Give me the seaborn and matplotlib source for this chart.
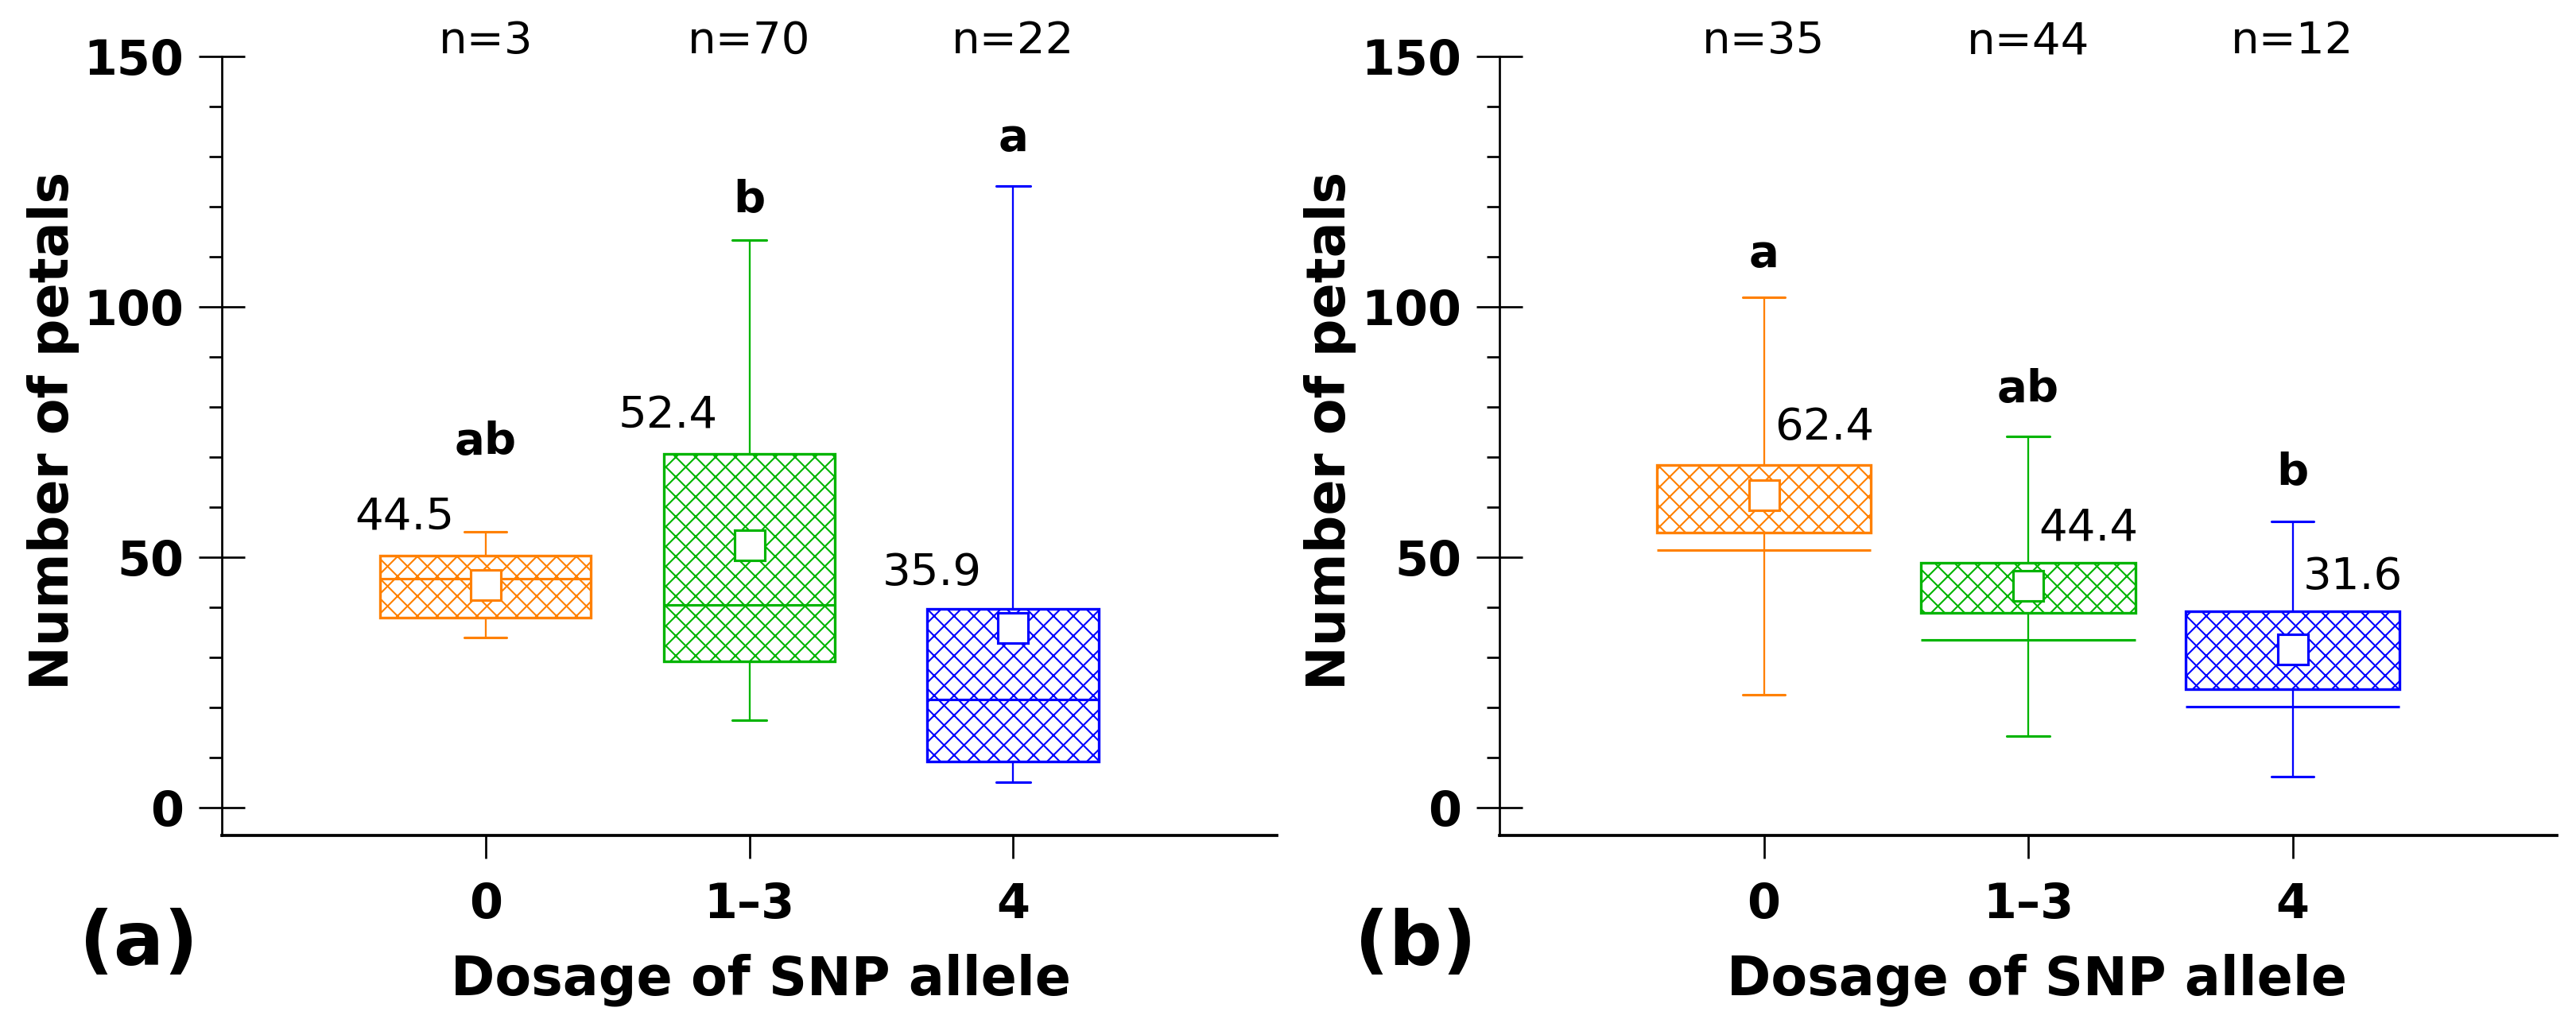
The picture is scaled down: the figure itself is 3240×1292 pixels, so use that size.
import numpy as np
import pandas as pd
import matplotlib
matplotlib.use("Agg")
import matplotlib.pyplot as plt
import seaborn as sns
from matplotlib.ticker import MultipleLocator

# ---------------- data ----------------
categories = ["0", "1\u20133", "4"]

a_n = [3, 70, 22]
a_mean = [44.5, 52.4, 35.9]
a_min = [34.0, 17.5, 5.1]
a_q1 = [38.0, 29.3, 9.2]
a_median = [45.8, 40.5, 21.7]
a_q3 = [50.4, 70.6, 39.7]
a_max = [55.2, 113.3, 124.2]
a_letters = ["ab", "b", "a"]

b_n = [35, 44, 12]
b_mean = [62.4, 44.4, 31.6]
b_min = [22.6, 14.4, 6.3]
b_q1 = [55.0, 38.9, 23.7]
b_median = [51.5, 33.5, 20.2]
b_q3 = [68.5, 49.0, 39.3]
b_max = [102.0, 74.1, 57.2]
b_letters = ["a", "ab", "b"]

# ---------------- style / layout ----------------
colors = ["#FF8000", "#00B400", "#0000FF"]
W, H, DPI = 3240, 1292, 150

sns.set_theme(style="ticks")
plt.rcParams["font.family"] = ["DejaVu Sans"]
plt.rcParams["hatch.linewidth"] = 1.0
plt.rcParams["axes.edgecolor"] = "black"
plt.rcParams["xtick.color"] = "black"
plt.rcParams["ytick.color"] = "black"
plt.rcParams["text.color"] = "black"
plt.rcParams["axes.labelcolor"] = "black"

fig = plt.figure(figsize=(W / DPI, H / DPI), dpi=DPI)
ax_a = fig.add_axes([279 / W, 0.1865, 1327 / W, 0.7585])
ax_b = fig.add_axes([1886 / W, 0.1865, 1330 / W, 0.7585])

panels = [
    dict(ax=ax_a, n=a_n, mean=a_mean, lo=a_min, q1=a_q1, med=a_median, q3=a_q3,
         hi=a_max, letters=a_letters, widths=[0.80, 0.65, 0.65], med_inside=True,
         letter_y=[73, 121.4, 133.6], mean_lab_y=[58.0, 78.2, 46.8],
         mean_lab_dx=-0.12, mean_lab_ha="right", tag="(a)", tag_x=174,
         xlab_x=0.511),
    dict(ax=ax_b, n=b_n, mean=b_mean, lo=b_min, q1=b_q1, med=b_median, q3=b_q3,
         hi=b_max, letters=b_letters, widths=[0.81, 0.81, 0.81], med_inside=False,
         letter_y=[110.5, 83.5, 67.0], mean_lab_y=[75.9, 55.9, 46.0],
         mean_lab_dx=0.04, mean_lab_ha="left", tag="(b)", tag_x=1780,
         xlab_x=0.508),
]

for p in panels:
    ax = p["ax"]
    xs = np.arange(len(categories))
    for i, cat in enumerate(categories):
        mid = p["med"][i] if p["med_inside"] else p["q1"][i]
        vals = [p["lo"][i], p["q1"][i], mid, p["q3"][i], p["hi"][i]]
        df = pd.DataFrame({"dose": [cat] * len(vals), "petals": vals})
        w = p["widths"][i]
        sns.boxplot(
            data=df, x="dose", y="petals", order=categories, ax=ax,
            whis=np.inf, width=w, color="white", linecolor=colors[i],
            linewidth=1.5, fliersize=0, capwidths=0.2 * w,
            boxprops=dict(hatch="xx", edgecolor=colors[i], facecolor="white",
                          linewidth=1.6),
            whiskerprops=dict(linewidth=1.1),
            capprops=dict(linewidth=1.5),
            medianprops=dict(linewidth=1.5, visible=p["med_inside"]),
        )
    if not p["med_inside"]:
        ws = np.array(p["widths"])
        ax.hlines(p["med"], xs - ws / 2, xs + ws / 2, colors=colors,
                  linewidth=1.5, zorder=3)

    sns.pointplot(
        x=categories, y=p["mean"], hue=categories, palette=colors,
        order=categories, hue_order=categories, markers="s",
        linestyles="none", errorbar=None, legend=False, ax=ax,
        markersize=18.5, markeredgewidth=1.5, markerfacecolor="white", zorder=6,
    )

    # annotations
    for i in range(len(categories)):
        ax.text(xs[i], 153, f"n={p['n'][i]}", ha="center", va="center",
                fontsize=27, clip_on=False)
        ax.text(xs[i], p["letter_y"][i], p["letters"][i], ha="center",
                va="center", fontsize=27, fontweight="bold")
        ax.text(xs[i] + p["mean_lab_dx"], p["mean_lab_y"][i],
                f"{p['mean'][i]:.1f}", ha=p["mean_lab_ha"], va="center",
                fontsize=27)

    ax.set_xlim(-1, 3)
    ax.set_ylim(-5.5, 150)
    ax.set_xticks(xs)
    ax.set_xticklabels(categories)
    ax.yaxis.set_major_locator(MultipleLocator(50))
    ax.yaxis.set_minor_locator(MultipleLocator(10))
    ax.tick_params(axis="y", which="major", direction="inout", length=28,
                   width=1.3, pad=9, labelsize=29)
    ax.tick_params(axis="y", which="minor", direction="out", length=7.5,
                   width=1.3)
    ax.tick_params(axis="x", which="major", direction="out", length=14,
                   width=1.3, pad=14, labelsize=29)
    ax.tick_params(axis="x", which="minor", bottom=False)
    for lab in ax.get_xticklabels() + ax.get_yticklabels():
        lab.set_fontweight("bold")
    sns.despine(ax=ax)
    ax.spines["left"].set_linewidth(1.3)
    ax.spines["bottom"].set_linewidth(1.8)

    ax.set_xlabel("Dosage of SNP allele", fontsize=32, fontweight="bold")
    ax.set_ylabel("Number of petals", fontsize=32, fontweight="bold")
    ax.xaxis.set_label_coords(p["xlab_x"], -0.152)
    ax.yaxis.set_label_coords(-0.135, 0.52)

    fig.text(p["tag_x"] / W, 1 - 1188 / H, p["tag"], ha="center",
             va="center", fontsize=45, fontweight="bold")

fig.savefig("out.png", dpi=DPI)
